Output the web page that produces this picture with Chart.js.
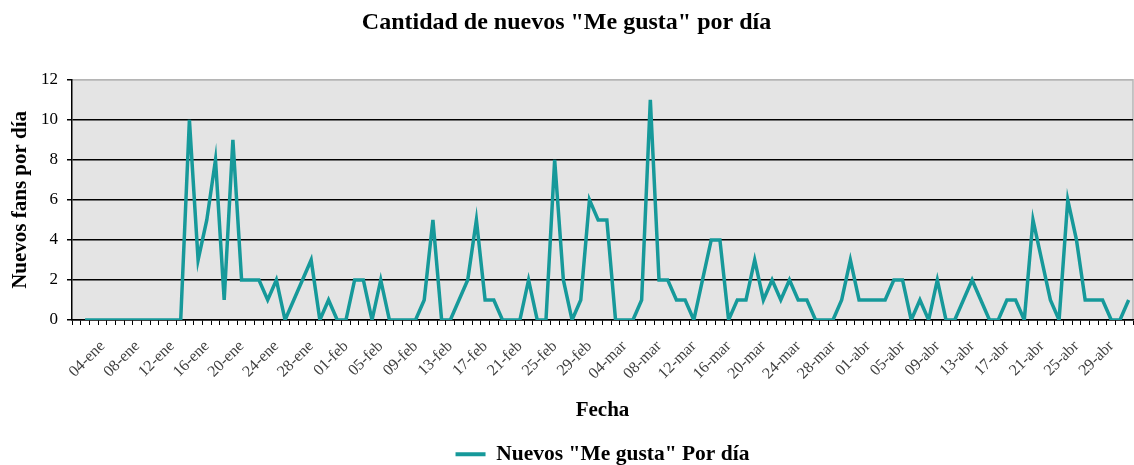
<!DOCTYPE html>
<html>
<head>
    <title>Nuevos Me gusta</title>
    <meta charset="utf-8">
    <script src="https://cdn.jsdelivr.net/npm/chart.js"></script>
    <style>
        body { margin: 0; background: #fff; }
        .chart-container { position: relative; width: 1134px; height: 465px; }
    </style>
</head>
<body>
<div class="chart-container">
    <canvas id="lineChart"></canvas>
</div>
<script>
    // fechas: 01-ene a 01-may (2012, bisiesto)
    var meses = ["ene", "feb", "mar", "abr", "may"];
    var diasPorMes = [31, 29, 31, 30, 1];

    // nuevos "Me gusta" por día (el 01-ene no tiene dato)
    var nuevosFans = [
        null, 0, 0, 0, 0, 0, 0, 0, 0, 0, 0, 0, 0, 10, 3, 5, 8, 1, 9, 2, 2, 2, 1, 2, 0, 1, 2, 3, 0, 1, 0,
        0, 2, 2, 0, 2, 0, 0, 0, 0, 1, 5, 0, 0, 1, 2, 5, 1, 1, 0, 0, 0, 2, 0, 0, 8, 2, 0, 1, 6,
        5, 5, 0, 0, 0, 1, 11, 2, 2, 1, 1, 0, 2, 4, 4, 0, 1, 1, 3, 1, 2, 1, 2, 1, 1, 0, 0, 0, 1, 3, 1,
        1, 1, 1, 2, 2, 0, 1, 0, 2, 0, 0, 1, 2, 1, 0, 0, 1, 1, 0, 5, 3, 1, 0, 6, 4, 1, 1, 1, 0, 0,
        1
    ];
    var yTicks = [0, 2, 4, 6, 8, 10, 12];

    var fechas = [];
    meses.forEach(function (m, i) {
        for (var d = 1; d <= diasPorMes[i]; d++) {
            fechas.push((d < 10 ? "0" + d : "" + d) + "-" + m);
        }
    });

    var colorLinea = "#16999A";
    var serif = "'Liberation Serif', 'Times New Roman', serif";
    Chart.defaults.font.family = serif;

    var padAbajo = -10;
    var altoLeyenda = 35.5;

    var fondoArea = {
        id: "fondoArea",
        beforeDraw: function (chart) {
            var ctx = chart.ctx, a = chart.chartArea;
            ctx.save();
            ctx.fillStyle = "#E4E4E4";
            ctx.fillRect(a.left, a.top, a.right - a.left, a.bottom - a.top);
            ctx.strokeStyle = "#B5B5B5";
            ctx.lineWidth = 1.5;
            ctx.beginPath();
            ctx.moveTo(a.left, a.top);
            ctx.lineTo(a.right, a.top);
            ctx.lineTo(a.right, a.bottom);
            ctx.stroke();
            ctx.restore();
        }
    };

    var ctx = document.getElementById("lineChart").getContext("2d");
    new Chart(ctx, {
        type: "line",
        data: {
            labels: fechas,
            datasets: [{
                label: 'Nuevos "Me gusta" Por día',
                data: nuevosFans,
                borderColor: colorLinea,
                backgroundColor: colorLinea,
                borderWidth: 3.5,
                pointRadius: 0,
                tension: 0,
                spanGaps: false
            }]
        },
        options: {
            responsive: true,
            maintainAspectRatio: false,
            animation: false,
            layout: { padding: { left: 0, right: 1, top: 0, bottom: padAbajo } },
            plugins: {
                title: {
                    display: true,
                    text: 'Cantidad de nuevos "Me gusta" por día',
                    color: "#000",
                    font: { size: 24, weight: "bold" },
                    padding: { top: 8, bottom: 43 }
                },
                legend: {
                    position: "bottom",
                    fullSize: false,
                    labels: {
                        color: "#000",
                        font: { size: 21.5, weight: "bold" },
                        boxWidth: 30,
                        boxHeight: 4,
                        padding: 4,
                        generateLabels: function (chart) {
                            var items = Chart.defaults.plugins.legend.labels.generateLabels(chart);
                            items.forEach(function (it) {
                                it.lineWidth = 0;
                                it.fillStyle = colorLinea;
                            });
                            return items;
                        }
                    }
                },
                tooltip: { enabled: false }
            },
            scales: {
                x: {
                    offset: true,
                    afterFit: function (scale) {
                        scale.height = scale.chart.height - padAbajo - altoLeyenda - 320;
                        scale.paddingLeft = 0;
                        scale.paddingRight = 0;
                    },
                    grid: {
                        offset: true,
                        drawOnChartArea: false,
                        drawTicks: true,
                        tickLength: 5,
                        color: "#000",
                        lineWidth: 1
                    },
                    border: { color: "#000", width: 1.5 },
                    ticks: {
                        autoSkip: false,
                        maxRotation: 45,
                        minRotation: 45,
                        padding: 12,
                        color: "#404040",
                        font: { size: 16 },
                        callback: function (val, i) {
                            return i % 4 === 3 ? fechas[i] : "";
                        }
                    },
                    title: {
                        display: true,
                        text: "Fecha",
                        color: "#000",
                        font: { size: 21, weight: "bold" },
                        padding: { top: 0, bottom: 16 }
                    }
                },
                y: {
                    min: yTicks[0],
                    max: yTicks[yTicks.length - 1],
                    afterFit: function (scale) { scale.width = 72; },
                    afterBuildTicks: function (scale) {
                        scale.ticks = yTicks.map(function (v) { return { value: v }; });
                    },
                    grid: {
                        color: function (c) { return c.tick && c.tick.value === 12 ? "#B5B5B5" : "#000"; },
                        tickColor: "#000",
                        lineWidth: 1.5,
                        drawTicks: true,
                        tickLength: 5
                    },
                    border: { color: "#000", width: 1.5 },
                    ticks: {
                        color: "#000",
                        font: { size: 17 },
                        padding: 9
                    },
                    title: {
                        display: true,
                        text: "Nuevos fans por día",
                        color: "#000",
                        font: { size: 21, weight: "bold" },
                        padding: { top: 8, bottom: 0 }
                    }
                }
            }
        },
        plugins: [fondoArea]
    });
</script>
</body>
</html>
